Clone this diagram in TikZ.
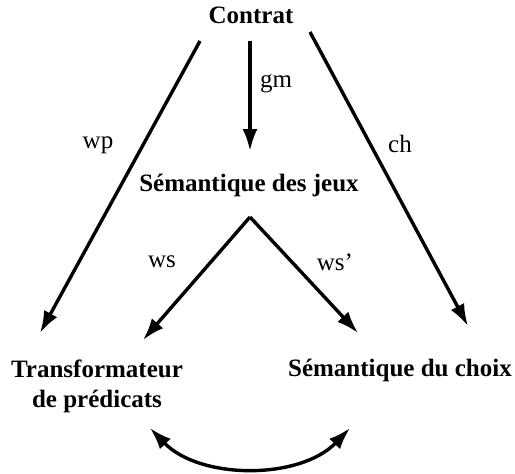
\documentclass[tikz,border=0pt]{standalone}
\usepackage{fontspec}
\setmainfont{Liberation Serif}
\usetikzlibrary{arrows.meta}
\begin{document}
\begin{tikzpicture}[x=0.5pt,y=-0.5pt,
  title/.style={font=\fontsize{12.5}{15}\selectfont\bfseries, inner sep=0pt, align=center},
  lab/.style={font=\fontsize{12.5}{15}\selectfont, inner sep=0pt},
  arr/.style={line width=1.7pt, -{Latex[length=11pt,width=7.5pt]}},
  darr/.style={line width=1.7pt, {Latex[length=11pt,width=7.5pt]}-{Latex[length=11pt,width=7.5pt]}}]
\useasboundingbox (0,0) rectangle (515,473);
\node[title] (contrat) at (251,15) {Contrat};
\node[title] (jeux) at (249,185) {Sémantique des jeux};
\node[title] (trans) at (97,386) {Transformateur\\de prédicats};
\node[title] (choix) at (400,370) {Sémantique du choix};
% endpoints
\coordinate (cL) at (200,41);
\coordinate (cM) at (250,41);
\coordinate (cR) at (310,32);
\coordinate (tTop) at (40,333);
\coordinate (jTop) at (250,151);
\coordinate (chTop) at (468,326);
\coordinate (apex) at (250,217);
\coordinate (tIn) at (143,340);
\coordinate (chIn) at (358,333);
\coordinate (tBot) at (150,428);
\coordinate (chBot) at (350,428);
\draw[arr] (cL) -- (tTop);
\draw[arr] (cM) -- (jTop);
\draw[arr] (cR) -- (chTop);
\draw[arr] (apex) -- (tIn);
\draw[arr] (apex) -- (chIn);
\draw[darr] (tBot) .. controls (200,480) and (300,480) .. (chBot);
\node[lab] (wp) at (98,145) {wp};
\node[lab] (gm) at (276,84) {gm};
\node[lab] (ch) at (400,144) {ch};
\node[lab] (ws) at (162,262) {ws};
\node[lab] (wsp) at (335,262) {ws’};
\end{tikzpicture}
\end{document}
